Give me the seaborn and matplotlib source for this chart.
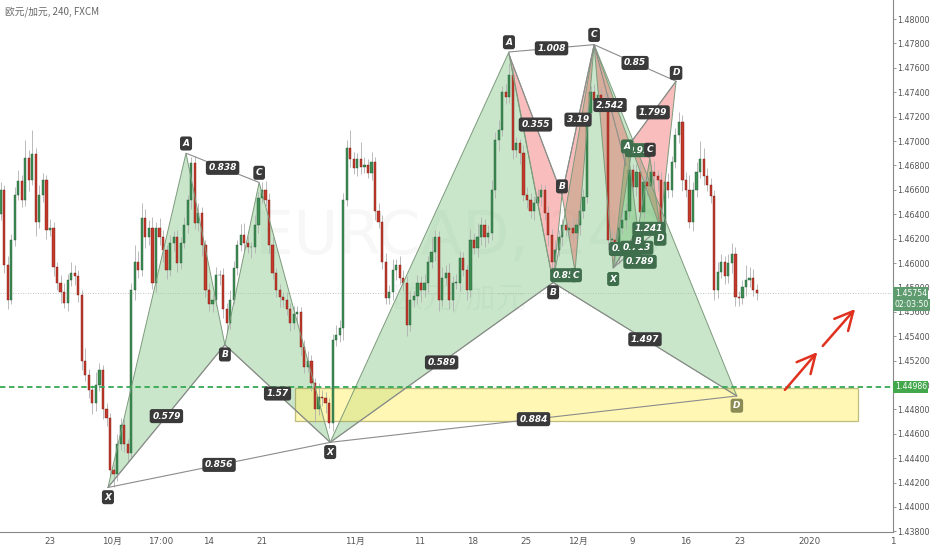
import numpy as np
import pandas as pd
import matplotlib
matplotlib.use("Agg")
import matplotlib.pyplot as plt
import seaborn as sns
from matplotlib.patches import Polygon, Rectangle

# 8h candles, index 0 = ~Sep 17
closes = [
    1.4660, 1.4598, 1.4570, 1.4619, 1.4656, 1.4667, 1.4652, 1.4686, 1.4668, 1.4689,
    1.4634, 1.4656, 1.4668, 1.4627, 1.4629, 1.4597, 1.4584, 1.4576, 1.4567, 1.4586,
    1.4592, 1.4589, 1.4574, 1.4520, 1.4508, 1.4496, 1.4485, 1.4500, 1.4512, 1.4480,
    1.4473, 1.4430, 1.4427, 1.4452, 1.4467, 1.4452, 1.4444, 1.4578, 1.4601, 1.4594,
    1.4637, 1.4621, 1.4629, 1.4584, 1.4629, 1.4621, 1.4611, 1.4594, 1.4616, 1.4621,
    1.4600, 1.4616, 1.4631, 1.4652, 1.4682, 1.4633, 1.4641, 1.4615, 1.4578, 1.4566,
    1.4570, 1.4590, 1.4590, 1.4562, 1.4551, 1.4570, 1.4596, 1.4615, 1.4623, 1.4616,
    1.4613, 1.4613, 1.4631, 1.4653, 1.4660, 1.4652, 1.4615, 1.4592, 1.4578, 1.4572,
    1.4570, 1.4562, 1.4551, 1.4558, 1.4560, 1.4531, 1.4515, 1.4520, 1.4502, 1.4480,
    1.4490, 1.4489, 1.4485, 1.4469, 1.4537, 1.4541, 1.4547, 1.4652, 1.4694, 1.4685,
    1.4678, 1.4685, 1.4679, 1.4680, 1.4674, 1.4683, 1.4643, 1.4634, 1.4601, 1.4571,
    1.4576, 1.4594, 1.4598, 1.4588, 1.4584, 1.4549, 1.4570, 1.4573, 1.4584, 1.4578,
    1.4584, 1.4601, 1.4609, 1.4621, 1.4570, 1.4588, 1.4592, 1.4570, 1.4584, 1.4584,
    1.4604, 1.4594, 1.4578, 1.4619, 1.4612, 1.4621, 1.4631, 1.4621, 1.4625, 1.4660,
    1.4701, 1.4709, 1.4740, 1.4736, 1.4754, 1.4693, 1.4698, 1.4690, 1.4656, 1.4652,
    1.4643, 1.4649, 1.4654, 1.4660, 1.4641, 1.4623, 1.4601, 1.4611, 1.4621, 1.4631,
    1.4627, 1.4629, 1.4625, 1.4631, 1.4643, 1.4654, 1.4723, 1.4740, 1.4734, 1.4738,
    1.4732, 1.4734, 1.4619, 1.4619, 1.4607, 1.4629, 1.4635, 1.4643, 1.4676, 1.4662,
    1.4675, 1.4642, 1.4666, 1.4663, 1.4675, 1.4671, 1.4668, 1.4634, 1.4666, 1.4660,
    1.4683, 1.4705, 1.4716, 1.4668, 1.4660, 1.4634, 1.4660, 1.4675, 1.4685, 1.4671,
    1.4664, 1.4655, 1.4578, 1.4593, 1.4601, 1.4589, 1.4600, 1.4607, 1.4572, 1.4571,
    1.4580, 1.4586, 1.4588, 1.4578, 1.45754,
]
first_open = 1.4640
# wick lengths in pips above / below the body
wick_up = [
    6, 4, 8, 5, 6, 9, 5, 15, 7, 20, 5, 8, 6, 4, 7, 5, 4, 6, 8, 5,
    9, 6, 5, 4, 10, 5, 4, 11, 6, 4, 5, 4, 5, 8, 6, 5, 4, 6, 14, 9,
    12, 7, 6, 9, 5, 8, 6, 4, 7, 5, 6, 5, 7, 4, 5, 6, 8, 5, 4, 6,
    5, 7, 4, 6, 5, 8, 6, 4, 9, 10, 6, 4, 8, 5, 6, 7, 5, 6, 4, 5,
    4, 6, 5, 7, 5, 4, 6, 8, 5, 4, 12, 6, 5, 4, 5, 8, 6, 5, 7, 15,
    6, 5, 14, 7, 5, 8, 4, 6, 5, 7, 6, 9, 5, 8, 6, 5, 7, 4, 6, 5,
    7, 5, 12, 6, 5, 9, 6, 8, 5, 7, 6, 5, 4, 9, 6, 12, 7, 5, 6, 8,
    6, 8, 5, 7, 10, 6, 5, 4, 7, 6, 5, 6, 7, 5, 4, 6, 5, 8, 6, 5,
    6, 5, 8, 6, 5, 7, 6, 5, 7, 5, 6, 5, 5, 8, 6, 5, 9, 6, 7, 5,
    6, 8, 5, 7, 6, 9, 5, 7, 6, 8, 5, 6, 8, 5, 7, 12, 6, 8, 15, 9,
    7, 6, 5, 8, 6, 5, 7, 9, 6, 5, 6, 12, 9, 7, 5,
]
wick_dn = [
    5, 6, 8, 4, 5, 4, 6, 5, 9, 4, 12, 5, 6, 7, 5, 8, 6, 9, 4, 6,
    5, 7, 6, 8, 5, 7, 9, 6, 5, 8, 7, 5, 11, 6, 5, 7, 6, 5, 8, 6,
    5, 9, 6, 5, 8, 6, 10, 7, 5, 6, 7, 5, 4, 6, 8, 5, 7, 9, 6, 5,
    6, 5, 8, 7, 8, 5, 4, 6, 5, 7, 5, 9, 5, 6, 4, 5, 7, 5, 6, 8,
    6, 5, 7, 5, 8, 6, 5, 4, 7, 10, 5, 6, 8, 4, 7, 5, 6, 10, 5, 6,
    5, 7, 6, 5, 4, 6, 8, 5, 6, 5, 5, 6, 8, 5, 7, 9, 5, 6, 7, 10,
    6, 8, 5, 7, 9, 5, 6, 8, 9, 5, 7, 5, 8, 6, 5, 7, 6, 8, 5, 6,
    7, 9, 5, 6, 5, 8, 6, 9, 5, 7, 6, 8, 5, 7, 6, 9, 10, 6, 5, 7,
    5, 7, 6, 5, 8, 6, 5, 7, 6, 5, 6, 7, 8, 5, 6, 8, 5, 7, 6, 8,
    7, 5, 6, 8, 5, 7, 9, 5, 6, 7, 6, 5, 7, 9, 6, 5, 8, 6, 5, 7,
    5, 6, 8, 7, 5, 6, 5, 8, 7, 6, 5, 7, 6, 5, 6,
]

tick_pos = [14.0, 31.55, 45.4, 59.0, 74.0, 100.3, 118.7, 133.7, 148.7,
            163.5, 178.7, 194.0, 209.3, 229.1]
tick_lab = ['23', '10月', '17:00', '14', '21', '11月', '11', '18', '25',
            '12月', '9', '16', '23', '2020']

# harmonic patterns: X, A, B, C, D (candle index, price)
p1_t = [30.4, 52.5, 63.5, 73.2, 93.3]
p1_p = [1.4416, 1.4690, 1.4533, 1.4666, 1.4453]
p1_names = ['X', 'A', 'B', 'C', 'X']
p1_ratios = ['0.579', '0.838', '1.57', '0.856']
p2_t = [93.3, 143.9, 156.4, 168.0, 208.4]
p2_p = [1.4453, 1.4773, 1.4584, 1.4779, 1.4491]
p2_names = ['', 'A', 'B', 'C', 'D']
p2_ratios = ['0.589', '1.008', '1.497', '0.884']

red_tri_t = [[143.9, 156.4, 158.9], [158.9, 168.0, 162.6],
             [168.0, 173.4, 178.7], [178.2, 191.2, 186.7]]
red_tri_p = [[1.4771, 1.4584, 1.4656], [1.4656, 1.4779, 1.4593],
             [1.4779, 1.4596, 1.4693], [1.4698, 1.4749, 1.4629]]
red_seg_t = [(143.9, 158.9), (158.9, 168.0), (168.0, 177.0), (178.2, 191.2), (168.0, 191.2)]
red_seg_p = [(1.4771, 1.4656), (1.4656, 1.4779), (1.4779, 1.4680), (1.4698, 1.4749), (1.4779, 1.4749)]
red_ratios = ['0.355', '3.19', '2.542', '1.799', '0.85']
red_pt_t = [158.9, 183.8, 191.2]
red_pt_p = [1.4656, 1.4686, 1.4749]
red_pt_names = ['B', 'C', 'D']

g3_t = [173.4, 177.3, 180.4, 183.8, 186.7]
g3_p = [1.4596, 1.4699, 1.4627, 1.4686, 1.4629]
g3_names = ['X', 'A', 'B', '', 'D']
g3_ratios = ['0.647', '0.91', '1.241', '0.713']
g_extra_t = [181.0, 159.4, 162.9]
g_extra_p = [1.4601, 1.4590, 1.4590]
g_extra_txt = ['0.789', '0.85', 'C']

zone_t = [83.3, 242.7]
zone_p = [1.44705, 1.44976]
level = 1.44986
last_price = 1.45754
arrow_t = [(221.5, 231.7), (232.2, 242.4)]
arrow_p = [(1.44943, 1.45287), (1.45303, 1.45640)]

sns.set_theme(style='white')
plt.rcParams['font.family'] = ['DejaVu Sans', 'Noto Sans CJK SC']

df = pd.DataFrame({'close': closes})
df['x'] = np.arange(len(df))
df['open'] = df['close'].shift(1).fillna(first_open)
df['high'] = df[['open', 'close']].max(axis=1) + np.array(wick_up) * 1e-4
df['low'] = df[['open', 'close']].min(axis=1) - np.array(wick_dn) * 1e-4
up = df['close'] >= df['open']

fig = plt.figure(figsize=(9.32, 5.5), dpi=100)
ax = fig.add_axes([0, 18 / 550, 893 / 932, 532 / 550])
ax.set_xlim(-0.15, 252.6)
ax.set_ylim(1.43795, 1.48156)

GREEN_FILL = '#4caf50'
RED_FILL = '#ef5350'
EDGE = '#7d9a7d'


def tri(ts, ps, color, alpha, z=1):
    ax.add_patch(Polygon(list(zip(ts, ps)), closed=True, fc=color, alpha=alpha,
                         ec='none', zorder=z))
    ax.add_patch(Polygon(list(zip(ts, ps)), closed=True, fill=False,
                         ec=EDGE, lw=0.7, zorder=4))


def box(x, y, txt, fc='#3a3a3a', dy=0, tc='white', size=6.5):
    ax.annotate(txt, (x, y), xytext=(0, dy), textcoords='offset points',
                ha='center', va='center', fontsize=size, color=tc,
                fontstyle='italic', fontweight='bold', zorder=6,
                bbox=dict(boxstyle='round,pad=0.28', fc=fc, ec='none'))


def pattern(ts, ps, names, ratios, fc, lab_fc, alpha=0.3):
    tri(ts[0:3], ps[0:3], fc, alpha)
    tri(ts[2:5], ps[2:5], fc, alpha)
    pairs = [(0, 2), (1, 3), (2, 4), (0, 4)]
    for (a, b), r in zip(pairs, ratios):
        ax.plot([ts[a], ts[b]], [ps[a], ps[b]], color='#8c8c8c', lw=0.8, zorder=4)
        box((ts[a] + ts[b]) / 2, (ps[a] + ps[b]) / 2, r, fc=lab_fc)


# watermark
ax.text(130, 1.4621, 'EURCAD, 240', fontsize=44, color='black', alpha=0.03,
        ha='center', va='center', zorder=0)
ax.text(130, 1.4570, '欧元/加元', fontsize=22, color='black', alpha=0.035,
        ha='center', va='center', zorder=0, family=['Noto Sans CJK SC', 'DejaVu Sans'])

# patterns
pattern(p1_t, p1_p, p1_names, p1_ratios, GREEN_FILL, '#3a3a3a')
pattern(p2_t, p2_p, p2_names, p2_ratios, GREEN_FILL, '#3a3a3a')
for ts, ps in zip(red_tri_t, red_tri_p):
    tri(ts, ps, RED_FILL, 0.38)
pattern(g3_t, g3_p, g3_names, g3_ratios, GREEN_FILL, '#3e6e4b')
for (ta, tb), (pa, pb), r in zip(red_seg_t, red_seg_p, red_ratios):
    ax.plot([ta, tb], [pa, pb], color='#8c8c8c', lw=0.8, zorder=4)
    box((ta + tb) / 2, (pa + pb) / 2, r)

# point labels
for ts, ps, names, fc in [(p1_t, p1_p, p1_names, '#3a3a3a'),
                          (p2_t, p2_p, p2_names, '#3a3a3a')]:
    for i, (t, p, n) in enumerate(zip(ts, ps, names)):
        if not n:
            continue
        dy = 7 if i in (1, 3) else -7
        c = '#8b8b55' if n == 'D' else fc
        box(t, p, n, fc=c, dy=dy)
for t, p, n in zip(red_pt_t, red_pt_p, red_pt_names):
    box(t, p, n, dy=6)
for i, (t, p, n) in enumerate(zip(g3_t, g3_p, g3_names)):
    if n:
        box(t, p, n, fc='#3e6e4b', dy=-8 if i != 1 else -3)
for t, p, n in zip(g_extra_t, g_extra_p, g_extra_txt):
    box(t, p, n, fc='#3e6e4b')

# zone
ax.add_patch(Rectangle((zone_t[0], zone_p[0]), zone_t[1] - zone_t[0],
                       zone_p[1] - zone_p[0], fc='#fff176', alpha=0.55,
                       ec='#8d8a3a', lw=0.9, zorder=1.5))

# candles
ax.vlines(df['x'], df['low'], df['high'], color='#b0b0b0', lw=0.6, zorder=2)
body_lo = df[['open', 'close']].min(axis=1)
body_h = (df['close'] - df['open']).abs().clip(lower=0.00004)
ax.bar(df['x'][up], body_h[up], bottom=body_lo[up], width=0.62,
       color='#3f8f55', edgecolor='#1f5a30', lw=0.3, zorder=3)
ax.bar(df['x'][~up], body_h[~up], bottom=body_lo[~up], width=0.62,
       color='#c23a2c', edgecolor='#7a1a10', lw=0.3, zorder=3)

# levels
ax.axhline(level, color='#34a853', lw=1.3, ls=(0, (3, 2)), zorder=4)
ax.axhline(last_price, color='#a8b8a8', lw=0.6, ls=(0, (1, 2)), zorder=2)

# arrows
for (t0, t1), (p0, p1) in zip(arrow_t, arrow_p):
    ax.annotate('', xy=(t1, p1), xytext=(t0, p0),
                arrowprops=dict(arrowstyle='->,head_length=1.1,head_width=0.55',
                                color='#e0301e', lw=1.8, mutation_scale=12),
                zorder=5)

# axes styling
ax.yaxis.tick_right()
ax.set_yticks(np.arange(1.438, 1.4801, 0.002))
ax.yaxis.set_major_formatter(matplotlib.ticker.FormatStrFormatter('%.5f'))
ax.set_xticks(tick_pos, tick_lab)
ax.tick_params(axis='both', labelsize=6.3, labelcolor='#555555', color='#888888',
               length=3, width=0.6, pad=2)
ax.tick_params(axis='y', labelsize=5.8, length=2, pad=1, right=True, left=False)
ax.tick_params(axis='x', length=2, pad=1.5)
for s in ['top', 'left']:
    ax.spines[s].set_visible(False)
for s in ['right', 'bottom']:
    ax.spines[s].set_color('#888888')
    ax.spines[s].set_linewidth(0.8)
ax.grid(False)
ax.annotate('1', xy=(252.4, 0), xycoords=('data', 'axes fraction'), xytext=(0, -3.5),
            textcoords='offset points', ha='center', va='top', fontsize=6.3,
            color='#555555', annotation_clip=False)

# right-axis price tags
for txt, price, fc, dy in [('1.45754', last_price, '#5e9c6f', 0),
                           ('02:03:50', last_price, '#5e9c6f', -8.5),
                           ('1.44986', level, '#43a84c', 0)]:
    ax.annotate(txt, xy=(1, price), xycoords=('axes fraction', 'data'),
                xytext=(1.2, dy), textcoords='offset points', ha='left', va='center',
                fontsize=5.6, color='white', annotation_clip=False, zorder=7,
                bbox=dict(boxstyle='square,pad=0.2', fc=fc, ec='none'))

fig.text(5 / 932, 1 - 12 / 550, '欧元/加元, 240, FXCM', fontsize=7, color='#666666',
         va='center', family=['Noto Sans CJK SC', 'DejaVu Sans'])

fig.savefig('out.png', dpi=100)
